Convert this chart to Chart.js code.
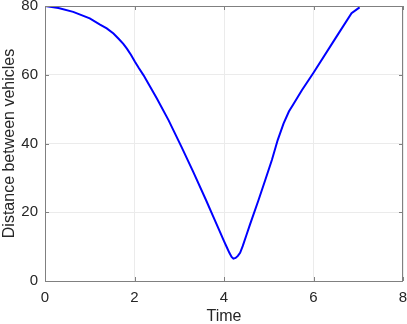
<!DOCTYPE html>
<html>
<head>
<meta charset="utf-8">
<script src="https://cdn.jsdelivr.net/npm/chart.js@4/dist/chart.umd.min.js"></script>
<style>
  html, body { margin: 0; padding: 0; background: #fff; }
  #wrap { width: 407px; height: 324px; }
</style>
</head>
<body>
<div id="wrap"><canvas id="chart"></canvas></div>
<script>
// values
const timeValues = [0, 0.3, 0.63, 1.0, 1.23, 1.38, 1.53, 1.65, 1.75, 1.83, 1.92, 2.01, 2.1, 2.2, 2.5, 2.76, 3.05, 3.31, 3.6, 3.76, 3.9, 4.0, 4.06, 4.12, 4.17, 4.21, 4.26, 4.31, 4.36, 4.42, 4.5, 4.58, 4.77, 4.92, 5.07, 5.2, 5.33, 5.45, 5.55, 5.74, 6.0, 6.5, 6.85, 7.03];
const distanceValues = [80, 79.4, 78.3, 76.4, 74.6, 73.5, 72.0, 70.4, 69.0, 67.6, 65.8, 63.8, 61.9, 59.9, 53.1, 46.8, 39.0, 31.8, 23.5, 18.7, 14.6, 11.6, 9.9, 8.2, 7.0, 6.5, 6.7, 7.3, 8.2, 10.2, 13.3, 16.4, 23.5, 29.3, 35.2, 41.0, 45.8, 49.3, 51.4, 55.5, 60.6, 70.8, 77.9, 79.6];
const xTicks = [0, 2, 4, 6, 8];
const yTicks = [0, 20, 40, 60, 80];

const points = timeValues.map((t, i) => ({ x: t, y: distanceValues[i] }));
const font = "Liberation Sans, Arial, Helvetica, sans-serif";
const textColor = "#262626";

// full box frame plus inward ticks, like the original
const frame = {
  id: "frame",
  afterDraw(chart) {
    const { ctx, chartArea: a, scales } = chart;
    ctx.save();
    ctx.strokeStyle = "#808080";
    ctx.lineWidth = 1;
    ctx.strokeRect(a.left + 0.5, a.top + 0.5, a.right - a.left - 1, a.bottom - a.top);
    ctx.beginPath();
    xTicks.forEach(v => {
      const px = Math.round(scales.x.getPixelForValue(v)) + 0.5;
      ctx.moveTo(px, a.bottom); ctx.lineTo(px, a.bottom - 4);
      ctx.moveTo(px, a.top); ctx.lineTo(px, a.top + 4);
    });
    yTicks.forEach(v => {
      const py = Math.round(scales.y.getPixelForValue(v)) + 0.5;
      ctx.moveTo(a.left, py); ctx.lineTo(a.left + 4, py);
      ctx.moveTo(a.right, py); ctx.lineTo(a.right - 4, py);
    });
    ctx.stroke();
    ctx.restore();
  }
};

// keep tick labels from pushing the plot box inward
function noPad(s) {
  s.paddingLeft = 0; s.paddingRight = 0; s.paddingTop = 0; s.paddingBottom = 0;
}

new Chart(document.getElementById("chart"), {
  type: "scatter",
  data: {
    datasets: [{
      data: points,
      showLine: true,
      borderColor: "#0000ff",
      borderWidth: 2,
      pointRadius: 0,
      tension: 0
    }]
  },
  options: {
    responsive: true,
    maintainAspectRatio: false,
    animation: false,
    layout: { autoPadding: false, padding: { top: 6, right: 4, left: 0, bottom: 0 } },
    plugins: { legend: { display: false }, tooltip: { enabled: false } },
    scales: {
      x: {
        type: "linear",
        min: 0, max: 8,
        afterBuildTicks: s => { s.ticks = xTicks.map(v => ({ value: v })); },
        afterFit: s => { s.height = 43; noPad(s); },
        grid: { color: "#ebebeb", drawTicks: false },
        border: { display: false },
        ticks: { color: textColor, font: { family: font, size: 15 }, padding: 8, maxRotation: 0 },
        title: { display: true, text: "Time", color: textColor, font: { family: font, size: 16 }, padding: { top: 0, bottom: -2 } }
      },
      y: {
        min: 0, max: 80,
        afterBuildTicks: s => { s.ticks = yTicks.map(v => ({ value: v })); },
        afterFit: s => { s.width = 45; noPad(s); },
        grid: { color: "#ebebeb", drawTicks: false },
        border: { display: false },
        ticks: { color: textColor, font: { family: font, size: 15 }, padding: 7 },
        title: { display: true, text: "Distance between vehicles", color: textColor, font: { family: font, size: 16 }, padding: { top: 0, bottom: 0 } }
      }
    }
  },
  plugins: [frame]
});
</script>
</body>
</html>
